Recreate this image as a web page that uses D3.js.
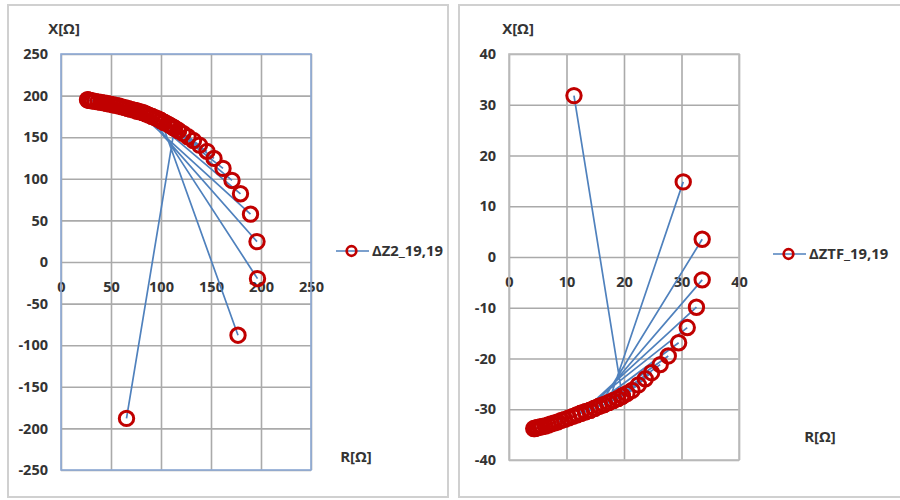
<!DOCTYPE html>
<html>
<head>
<meta charset="utf-8">
<script src="https://cdn.jsdelivr.net/npm/d3@7"></script>
<style>
  html, body { margin: 0; padding: 0; background: #fff; }
  svg text { font-family: "Open Sans", "Liberation Sans", sans-serif; font-weight: 700; fill: #333; }
</style>
</head>
<body>
<svg id="chart" width="900" height="500"></svg>
<script>
// ΔZ2_19,19 trajectory: converging band first, then the jumps (null = break in the line)
const z2R = [
  132.5, 127, 122, 117.5, 113.5, 110, 106.5, 103, 100, 97, 94, 91, 88, 85, 82, 79, 76, 73, 70, 67,
  64, 61, 58, 55, 52, 49, 46, 43, 40, 37, 34, 31.5, 29.5, 28, 27, 26.5,
  null, 113.5, 65.5,
  null, 100, 177,
  null, 91, 196.5,
  null, 82, 196,
  null, 76, 189.5,
  null, 85, 179.5,
  null, 97, 171,
  null, 103, 162,
  null, 108, 153,
  null, 112, 146,
  null, 117.5, 138.5
];
const z2X = [
  146, 150.5, 154.5, 158, 161, 163.5, 166, 168, 170, 172, 173.5, 175, 176.5, 178, 179.5, 180.5, 181.5, 182.5, 183.5, 184.5,
  185.5, 186.5, 187.5, 188.3, 189, 189.8, 190.5, 191.2, 191.9, 192.5, 193.1, 193.6, 194.1, 194.5, 194.8, 195,
  null, 161, -188,
  null, 170, -88,
  null, 175, -20,
  null, 179.5, 24.5,
  null, 181.5, 57.5,
  null, 178, 82,
  null, 172, 98,
  null, 168, 112.5,
  null, 164.8, 124.5,
  null, 161.8, 133,
  null, 158, 140.5
];

// ΔZTF_19,19 trajectory
const ztfR = [
  21.4, 20.5, 19.7, 18.9, 18.1, 17.3, 16.5, 15.7, 14.9, 14.1, 13.3, 12.5, 11.8, 11.1, 10.4, 9.7, 9.1, 8.5,
  7.9, 7.3, 6.8, 6.3, 5.8, 5.4, 5, 4.7, 4.5, 4.3,
  null, 19.7, 11.3,
  null, 17.3, 30.3,
  null, 15.7, 33.6,
  null, 14.1, 33.6,
  null, 12.5, 32.6,
  null, 11.8, 31,
  null, 13.3, 29.5,
  null, 14.9, 27.7,
  null, 16.5, 26.3,
  null, 18.1, 24.8,
  null, 18.9, 23.7,
  null, 19.7, 22.5
];
const ztfX = [
  -26.3, -26.9, -27.4, -27.9, -28.3, -28.7, -29.1, -29.4, -29.8, -30.2, -30.5, -30.8, -31.1, -31.4, -31.7, -32, -32.2, -32.5,
  -32.7, -32.9, -33.1, -33.3, -33.4, -33.5, -33.6, -33.7, -33.8, -33.8,
  null, -27.4, 31.8,
  null, -28.7, 14.8,
  null, -29.4, 3.5,
  null, -30.2, -4.5,
  null, -30.8, -9.9,
  null, -31.1, -13.9,
  null, -30.5, -16.9,
  null, -29.8, -19.5,
  null, -29.1, -21.2,
  null, -28.3, -22.8,
  null, -27.9, -24,
  null, -27.4, -25.2
];

// axis ticks
const z2RTicks = [0, 50, 100, 150, 200, 250];
const z2XTicks = [-250, -200, -150, -100, -50, 0, 50, 100, 150, 200, 250];
const ztfRTicks = [0, 10, 20, 30, 40];
const ztfXTicks = [-40, -30, -20, -10, 0, 10, 20, 30, 40];

const seriesNames = ["ΔZ2_19,19", "ΔZTF_19,19"];
const axisTitleX = "X[Ω]";
const axisTitleR = "R[Ω]";

const svg = d3.select("#chart");
const lineBlue = "#4f81bd";
const markerRed = "#c00000";
const tickText = d => String(d);   // plain hyphen for negatives

// outer frames of the two chart objects
svg.append("rect").attr("x", 8).attr("y", 5).attr("width", 440).attr("height", 492)
  .attr("fill", "#fff").attr("stroke", "#d0d0d0").attr("stroke-width", 2);
svg.append("rect").attr("x", 459).attr("y", 5).attr("width", 450).attr("height", 492)
  .attr("fill", "#fff").attr("stroke", "#d0d0d0").attr("stroke-width", 2);

function drawPanel(cfg) {
  const g = svg.append("g");
  const x = d3.scaleLinear().domain(cfg.xDomain).range([cfg.left, cfg.right]);
  const y = d3.scaleLinear().domain(cfg.yDomain).range([cfg.bottom, cfg.top]);
  const w = cfg.right - cfg.left, h = cfg.bottom - cfg.top;

  // horizontal gridlines + value labels
  const yAxis = g.append("g").attr("transform", `translate(${cfg.left},0)`)
    .call(d3.axisLeft(y).tickValues(cfg.yTicks).tickSize(-w).tickPadding(13).tickFormat(tickText));
  yAxis.select(".domain").remove();
  yAxis.selectAll(".tick line").attr("stroke", "#aaaaaa").attr("stroke-width", 1.6);
  yAxis.selectAll(".tick text").attr("font-size", 14.5).attr("fill", "#333");

  // vertical gridlines
  const xGrid = g.append("g").attr("transform", `translate(0,${cfg.bottom})`)
    .call(d3.axisBottom(x).tickValues(cfg.xTicks).tickSize(-h).tickFormat(""));
  xGrid.select(".domain").remove();
  xGrid.selectAll(".tick line").attr("stroke", "#aaaaaa").attr("stroke-width", 1.6);

  // R labels hang under the X = 0 line
  const xAxis = g.append("g").attr("transform", `translate(0,${y(0)})`)
    .call(d3.axisBottom(x).tickValues(cfg.xTicks).tickSize(0).tickPadding(20).tickFormat(tickText));
  xAxis.select(".domain").remove();
  xAxis.selectAll(".tick text").attr("font-size", 14.5).attr("fill", "#333");

  // plot-area outline
  g.append("rect").attr("x", cfg.left).attr("y", cfg.top).attr("width", w).attr("height", h)
    .attr("fill", "none").attr("stroke", cfg.frame).attr("stroke-width", 1.6);

  const pts = cfg.R.map((r, i) => [r, cfg.X[i]]);
  const line = d3.line().defined(d => d[0] !== null && d[1] !== null)
    .x(d => x(d[0])).y(d => y(d[1]));
  g.append("path").attr("d", line(pts)).attr("fill", "none")
    .attr("stroke", lineBlue).attr("stroke-width", 1.7);

  g.append("g").selectAll("circle").data(pts.filter(d => d[0] !== null))
    .join("circle")
    .attr("cx", d => x(d[0])).attr("cy", d => y(d[1])).attr("r", 7.2)
    .attr("fill", "none").attr("stroke", markerRed).attr("stroke-width", 3);

  // axis titles
  g.append("text").attr("x", cfg.xTitle[0]).attr("y", cfg.xTitle[1]).attr("text-anchor", "middle")
    .attr("font-size", 15).text(axisTitleX);
  g.append("text").attr("x", cfg.rTitle[0]).attr("y", cfg.rTitle[1]).attr("text-anchor", "middle")
    .attr("font-size", 15).text(axisTitleR);

  // legend
  const lg = g.append("g").attr("transform", `translate(${cfg.legend[0]},${cfg.legend[1]})`);
  lg.append("line").attr("x1", 0).attr("x2", 33).attr("y1", 0).attr("y2", 0)
    .attr("stroke", lineBlue).attr("stroke-width", 1.7);
  lg.append("circle").attr("cx", 15.5).attr("cy", 0).attr("r", 4.8)
    .attr("fill", "none").attr("stroke", markerRed).attr("stroke-width", 2.7);
  lg.append("text").attr("x", 36).attr("y", 0).attr("dy", "0.35em")
    .attr("font-size", 14.8).text(cfg.name);
}

drawPanel({
  R: z2R, X: z2X, name: seriesNames[0],
  xDomain: [0, 250], yDomain: [-250, 250], xTicks: z2RTicks, yTicks: z2XTicks,
  left: 61, right: 311, top: 54, bottom: 470, frame: "#8eaad6",
  xTitle: [64, 34], rTitle: [356, 462], legend: [336, 251]
});

drawPanel({
  R: ztfR, X: ztfX, name: seriesNames[1],
  xDomain: [0, 40], yDomain: [-40, 40], xTicks: ztfRTicks, yTicks: ztfXTicks,
  left: 509, right: 739, top: 54, bottom: 460, frame: "#bdbdbd",
  xTitle: [518, 34], rTitle: [820, 442], legend: [773, 254]
});
</script>
</body>
</html>
